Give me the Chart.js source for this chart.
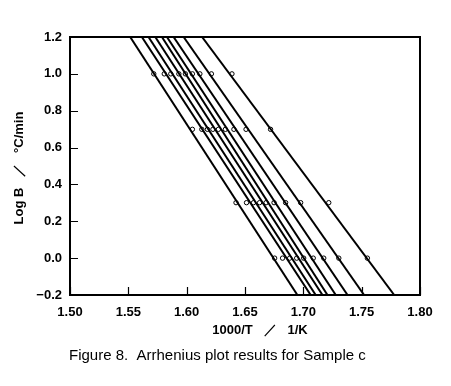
<!DOCTYPE html>
<html>
<head>
<meta charset="utf-8">
<script src="https://cdn.jsdelivr.net/npm/chart.js@4/dist/chart.umd.min.js"></script>
<style>
html,body{margin:0;padding:0;background:#fff;}
canvas{display:block;}
</style>
</head>
<body>
<canvas id="c" width="451" height="386"></canvas>
<script>
// Log of heating rate B (°C/min) for rows 10, 5, 2, 1 °C/min
const logB = [1.0, 0.699, 0.301, 0.0];
// 1000/T values of the measured points (one per conversion line) per heating rate
const x10 = [1.5718, 1.5808, 1.5864, 1.5933, 1.5989, 1.6049, 1.6113, 1.6212, 1.6388];
const x5  = [1.6049, 1.6130, 1.6178, 1.6225, 1.6272, 1.6332, 1.6405, 1.6509, 1.6719];
const x2  = [1.6423, 1.6513, 1.6573, 1.6625, 1.6681, 1.6749, 1.6848, 1.6977, 1.7218];
const x1  = [1.6754, 1.6822, 1.6883, 1.6943, 1.7003, 1.7085, 1.7175, 1.7304, 1.7549];
// fitted lines: 1000/T where each line meets the top (1.2) and bottom (-0.2) of the frame
const lineTopY = 1.2, lineBottomY = -0.2;
const lineTopX    = [1.5516, 1.5616, 1.5673, 1.5731, 1.5788, 1.5831, 1.5888, 1.5974, 1.6132];
const lineBottomX = [1.6949, 1.7063, 1.7106, 1.7164, 1.7207, 1.7278, 1.7379, 1.7521, 1.7779];
// axis ticks
const xTicks = [1.50, 1.55, 1.60, 1.65, 1.70, 1.75, 1.80];
const yTicks = [-0.2, 0.0, 0.2, 0.4, 0.6, 0.8, 1.0, 1.2];
const xTitle = '1000/T   \uFF0F   1/K';
const yTitle = 'Log B   \uFF0F   \u00B0C/min';
const caption = 'Figure 8.  Arrhenius plot results for Sample c';

const FONT = '"Liberation Sans", Arial, sans-serif';
const datasets = [];
lineTopX.forEach((t, i) => {
  datasets.push({
    type: 'scatter', showLine: true,
    data: [{x: t, y: lineTopY}, {x: lineBottomX[i], y: lineBottomY}],
    borderColor: '#000', borderWidth: 2, pointRadius: 0, fill: false
  });
});
[x10, x5, x2, x1].forEach((row, r) => {
  datasets.push({
    type: 'scatter', showLine: false,
    data: row.map(v => ({x: v, y: logB[r]})),
    pointRadius: 2.2, pointBorderWidth: 1, borderColor: '#000',
    pointBackgroundColor: '#fff', backgroundColor: '#fff'
  });
});

const frame = {
  id: 'frame',
  afterDraw(chart) {
    const {ctx, chartArea: a, scales} = chart;
    ctx.save();
    ctx.strokeStyle = '#000';
    ctx.lineWidth = 2;
    ctx.strokeRect(a.left, a.top, a.right - a.left, a.bottom - a.top);
    ctx.lineWidth = 1.2;
    ctx.beginPath();
    yTicks.forEach(v => {
      const p = Math.round(scales.y.getPixelForValue(v)) + 0.5;
      ctx.moveTo(a.left, p); ctx.lineTo(a.left + 8, p);
    });
    xTicks.forEach(v => {
      const p = Math.round(scales.x.getPixelForValue(v)) + 0.5;
      ctx.moveTo(p, a.bottom); ctx.lineTo(p, a.bottom - 8);
    });
    ctx.stroke();
    ctx.fillStyle = '#000';
    ctx.font = 'bold 13px ' + FONT;
    ctx.textAlign = 'center';
    ctx.textBaseline = 'middle';
    ctx.fillText(xTitle, 260, 330);
    ctx.save();
    ctx.translate(19, 168);
    ctx.rotate(-Math.PI / 2);
    ctx.fillText(yTitle, 0, 0);
    ctx.restore();
    ctx.font = '15px ' + FONT;
    ctx.textAlign = 'left';
    ctx.fillText(caption, 69, 356);
    ctx.restore();
  }
};

new Chart(document.getElementById('c'), {
  type: 'scatter',
  data: {datasets},
  options: {
    responsive: false, animation: false,
    layout: {padding: {left: 0, top: 37, right: 31, bottom: 0}},
    plugins: {legend: {display: false}, tooltip: {enabled: false}},
    scales: {
      x: {
        type: 'linear', min: 1.5, max: 1.8,
        afterFit(s) { s.height = 386 - 295; },
        afterBuildTicks(s) { s.ticks = xTicks.map(v => ({value: v})); },
        grid: {display: false, drawTicks: false},
        border: {display: false},
        ticks: {color: '#000', font: {family: FONT, size: 13, weight: 'bold'}, padding: 10,
                maxRotation: 0, callback: v => v.toFixed(2)}
      },
      y: {
        type: 'linear', min: -0.2, max: 1.2,
        afterFit(s) { s.width = 70; },
        afterBuildTicks(s) { s.ticks = yTicks.map(v => ({value: v})); },
        grid: {display: false, drawTicks: false},
        border: {display: false},
        ticks: {color: '#000', font: {family: FONT, size: 13, weight: 'bold'}, padding: 8,
                callback: v => (Math.abs(v) < 1e-9 ? '0.0' : v.toFixed(1).replace('-', '\u2212'))}
      }
    }
  },
  plugins: [frame]
});
</script>
</body>
</html>
